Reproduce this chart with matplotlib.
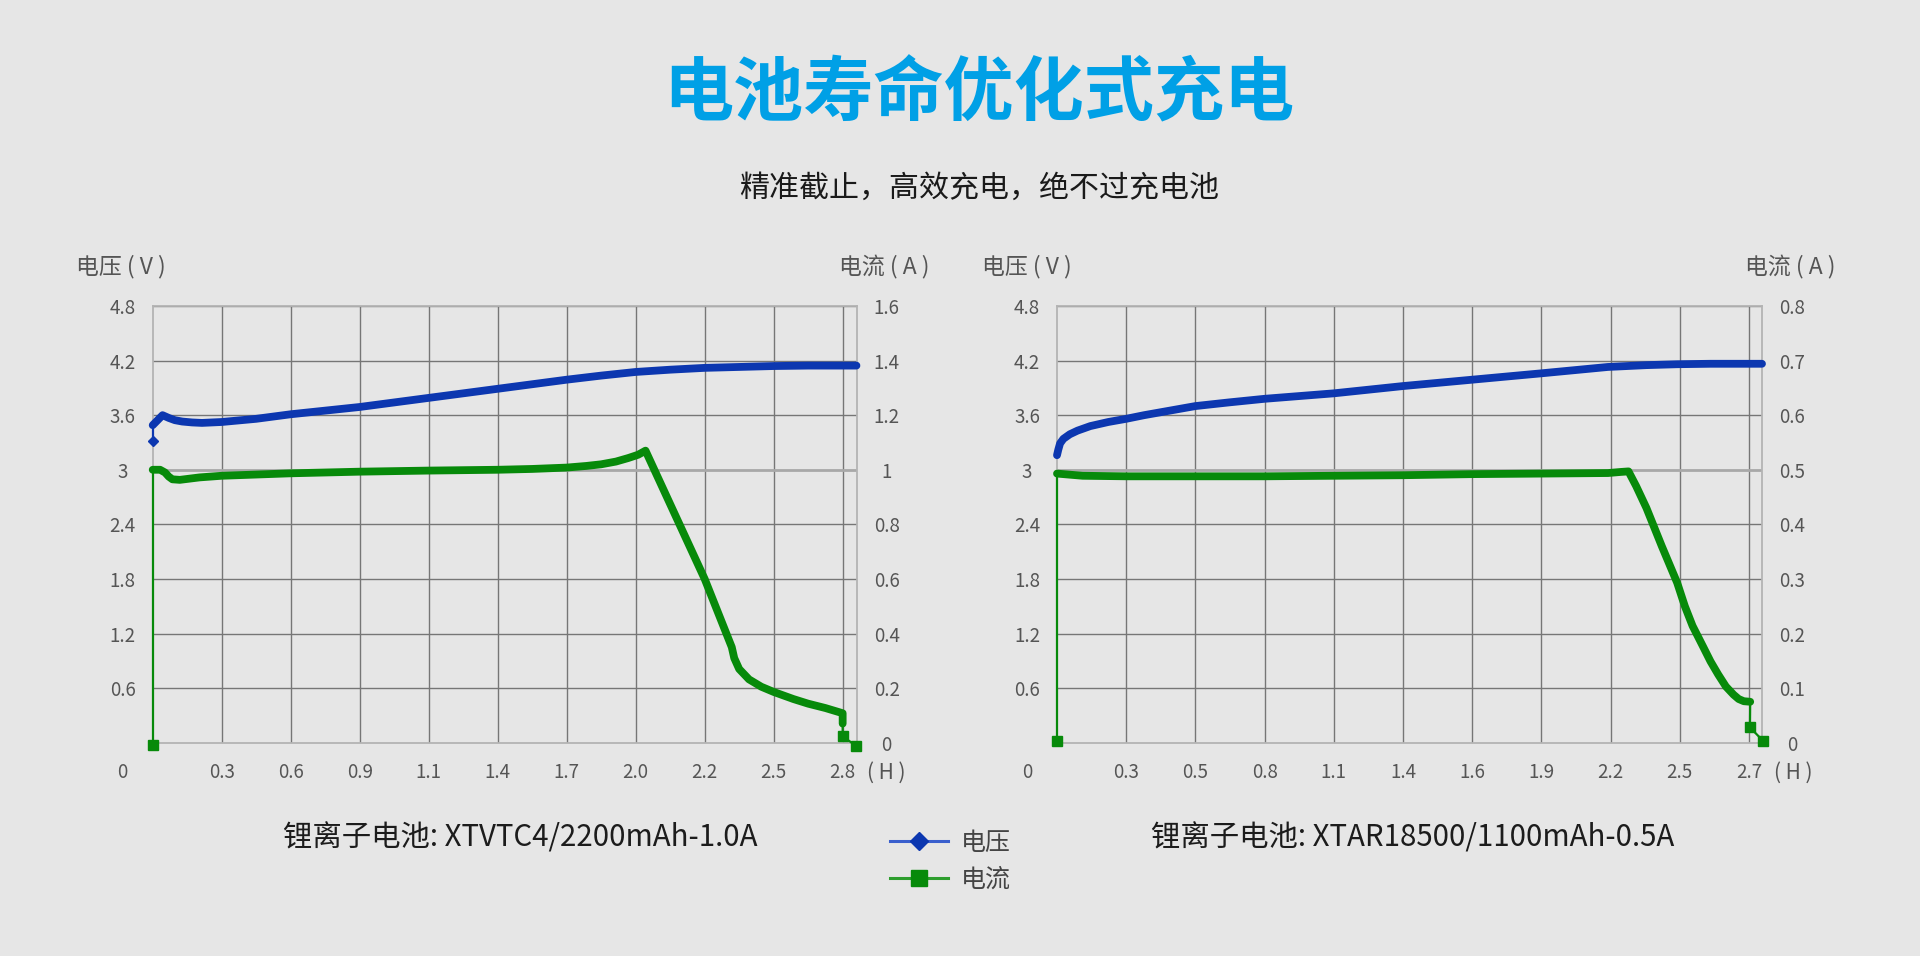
import matplotlib
matplotlib.use('Agg')
import matplotlib.pyplot as plt
from matplotlib.lines import Line2D

plt.rcParams['font.family'] = ['Noto Sans CJK SC', 'DejaVu Sans']

# ---------------- data ----------------
TITLE = '电池寿命优化式充电'
SUBTITLE = '精准截止，高效充电，绝不过充电池'
V_LABEL = '电压 ( V )'
A_LABEL = '电流 ( A )'
H_LABEL = '( H )'
LEGEND_LABELS = ['电压', '电流']

V_TICKS = [0.6, 1.2, 1.8, 2.4, 3.0, 3.6, 4.2, 4.8]
V_TICKLABELS = ['0.6', '1.2', '1.8', '2.4', '3', '3.6', '4.2', '4.8']

# left chart: XTVTC4
L_CAPTION = '锂离子电池: XTVTC4/2200mAh-1.0A'
L_XTICKLABELS = ['0.3', '0.6', '0.9', '1.1', '1.4', '1.7', '2.0', '2.2', '2.5', '2.8']
L_A_TICKS = [0, 0.2, 0.4, 0.6, 0.8, 1.0, 1.2, 1.4, 1.6]
L_A_TICKLABELS = ['0', '0.2', '0.4', '0.6', '0.8', '1', '1.2', '1.4', '1.6']
L_V_t = [0, 0.04, 0.065, 0.09, 0.12, 0.16, 0.20, 0.28, 0.42, 0.56, 0.70, 0.84, 0.98, 1.12,
         1.26, 1.40, 1.54, 1.68, 1.82, 1.96, 2.10, 2.24, 2.38, 2.52, 2.66, 2.80, 2.856]
L_V = [3.49, 3.60, 3.57, 3.545, 3.53, 3.52, 3.515, 3.525, 3.56, 3.61, 3.65, 3.69, 3.74, 3.79,
       3.84, 3.89, 3.94, 3.99, 4.035, 4.075, 4.10, 4.12, 4.13, 4.14, 4.145, 4.145, 4.145]
L_V_start_t = [0, 0]
L_V_start = [3.32, 3.49]
L_I_t = [0, 0.03, 0.05, 0.065, 0.08, 0.11, 0.19, 0.28, 0.56, 0.84, 1.12, 1.40, 1.54, 1.68,
         1.76, 1.82, 1.88, 1.93, 1.97, 2.00, 2.24, 2.35, 2.36, 2.38, 2.42, 2.47, 2.52, 2.60,
         2.66, 2.73, 2.80, 2.80]
L_I = [1.00, 1.00, 0.99, 0.975, 0.965, 0.963, 0.972, 0.978, 0.987, 0.993, 0.997, 1.00, 1.003,
       1.008, 1.014, 1.02, 1.03, 1.043, 1.055, 1.07, 0.60, 0.35, 0.31, 0.27, 0.232, 0.205,
       0.186, 0.16, 0.143, 0.127, 0.108, 0.07]
L_I_start_t = [0, 0]
L_I_start = [-0.01, 1.00]
L_I_end_t = [2.80, 2.80, 2.856]
L_I_end = [0.07, 0.023, -0.012]

# right chart: XTAR18500
R_CAPTION = '锂离子电池: XTAR18500/1100mAh-0.5A'
R_XTICKLABELS = ['0.3', '0.5', '0.8', '1.1', '1.4', '1.6', '1.9', '2.2', '2.5', '2.7']
R_A_TICKS = [0, 0.1, 0.2, 0.3, 0.4, 0.5, 0.6, 0.7, 0.8]
R_A_TICKLABELS = ['0', '0.1', '0.2', '0.3', '0.4', '0.5', '0.6', '0.7', '0.8']
R_V_t = [0, 0.005, 0.012, 0.025, 0.05, 0.08, 0.13, 0.20, 0.27, 0.34, 0.40, 0.47, 0.54, 0.67,
         0.81, 1.08, 1.35, 1.62, 1.89, 2.15, 2.30, 2.42, 2.55, 2.751]
R_V = [3.16, 3.22, 3.29, 3.34, 3.39, 3.43, 3.48, 3.525, 3.56, 3.60, 3.63, 3.665, 3.70, 3.74,
       3.78, 3.84, 3.92, 3.99, 4.06, 4.13, 4.15, 4.16, 4.165, 4.165]
R_I_t = [0, 0.10, 0.27, 0.54, 0.81, 1.08, 1.35, 1.62, 1.89, 2.15, 2.20, 2.23, 2.26, 2.30,
         2.36, 2.42, 2.45, 2.48, 2.52, 2.55, 2.58, 2.61, 2.64, 2.66, 2.68, 2.705]
R_I = [0.493, 0.489, 0.488, 0.488, 0.488, 0.489, 0.490, 0.492, 0.493, 0.494, 0.496, 0.497,
       0.47, 0.43, 0.36, 0.293, 0.25, 0.214, 0.177, 0.149, 0.125, 0.103, 0.088, 0.08,
       0.076, 0.075]
R_I_start_t = [0, 0]
R_I_start = [0.003, 0.493]
R_I_end_t = [2.705, 2.704, 2.756]
R_I_end = [0.075, 0.028, 0.003]

# ---------------- style ----------------
BG = '#e6e6e6'
BLUE = '#0c37b0'
GREEN = '#078a0a'
BLUE_THIN = '#3a5fcd'
GREEN_THIN = '#2e9e2e'
GRID = '#767676'
SPINE = '#b4b4b4'
TICKC = '#555555'
PX = 72 / 100.0  # points per pixel

fig = plt.figure(figsize=(19.2, 9.56), dpi=100, facecolor=BG)


def chart(rect, step, xmax, xticklabels, a_ticks, a_ticklabels,
          v_t, v, i_t, i, i_start_t, i_start, i_end_t, i_end,
          v_start_t=None, v_start=None, caption='', cap_x=0.0,
          vlab_dx=-32, alab_dx=28, h_dx=22):
    ax = fig.add_axes(rect)
    ax.set_xlim(0, xmax)
    ax.set_ylim(0, 4.8)
    xt = [step * (k + 1) for k in range(len(xticklabels))]
    ax.set_xticks(xt)
    ax.set_xticklabels(xticklabels)
    ax.set_yticks(V_TICKS)
    ax.set_yticklabels(V_TICKLABELS)
    ax.grid(True, color=GRID, lw=1.0)
    ax.set_axisbelow(True)
    for val, gl in zip(V_TICKS, ax.yaxis.get_gridlines()):
        if abs(val - 3.0) < 1e-6:
            gl.set_color('#a8a8a8')
            gl.set_linewidth(2.0)
    ax.tick_params(axis='both', length=0, labelsize=13.5, labelcolor=TICKC)
    ax.tick_params(axis='y', pad=30 * PX)
    ax.tick_params(axis='x', pad=30 * PX)
    for t in ax.get_yticklabels():
        t.set_horizontalalignment('center')
    for t in ax.get_xticklabels():
        t.set_verticalalignment('center')
    for s in ax.spines.values():
        s.set_color(SPINE)
        s.set_linewidth(1.3)
        s.set_zorder(1)

    ax2 = ax.twinx()
    ax2.set_ylim(0, a_ticks[-1])
    ax2.set_yticks(a_ticks)
    ax2.set_yticklabels(a_ticklabels)
    ax2.tick_params(axis='y', length=0, labelsize=13.5, labelcolor=TICKC, pad=30 * PX)
    for t in ax2.get_yticklabels():
        t.set_horizontalalignment('center')
    for s in ax2.spines.values():
        s.set_visible(False)
    ax.set_zorder(ax2.get_zorder() + 1)
    ax.patch.set_visible(False)
    ax2.patch.set_visible(True)
    ax2.patch.set_facecolor(BG)

    tr = ax2.transData  # current values use the right-hand scale
    ax.plot(i_start_t, i_start, color=GREEN, lw=1.6, marker='s', ms=6.8,
            markevery=[0], clip_on=False, zorder=3, transform=tr)
    ax.plot(i_end_t, i_end, color=GREEN, lw=1.6, marker='s', ms=6.8,
            markevery=[1, 2], clip_on=False, zorder=3, transform=tr)
    ax.plot(i_t, i, color=GREEN, lw=5.6, solid_capstyle='round',
            solid_joinstyle='round', clip_on=False, zorder=4, transform=tr)
    if v_start_t is not None:
        ax.plot(v_start_t, v_start, color=BLUE, lw=1.6, marker='D', ms=5.5,
                markevery=[0], clip_on=False, zorder=3)
    ax.plot(v_t, v, color=BLUE, lw=5.6, solid_capstyle='round',
            solid_joinstyle='round', clip_on=False, zorder=5)

    ax.annotate(V_LABEL, xy=(0, 1), xycoords='axes fraction',
                xytext=(vlab_dx * PX, 39 * PX), textcoords='offset points',
                ha='center', va='center', fontsize=16.5, color=TICKC)
    ax.annotate(A_LABEL, xy=(1, 1), xycoords='axes fraction',
                xytext=(alab_dx * PX, 39 * PX), textcoords='offset points',
                ha='center', va='center', fontsize=16.5, color=TICKC)
    ax.annotate('0', xy=(0, 0), xycoords='axes fraction',
                xytext=(-30 * PX, -30 * PX), textcoords='offset points',
                ha='center', va='center', fontsize=13.5, color=TICKC)
    ax.annotate(H_LABEL, xy=(1, 0), xycoords='axes fraction',
                xytext=(h_dx * PX, -30 * PX), textcoords='offset points',
                ha='center', va='center', fontsize=15, color=TICKC)
    fig.text(cap_x, 1 - 838 / 956, caption, ha='center', va='center',
             fontsize=21.2, color='#1c1c1c')
    return ax


chart([152.7 / 1920, 1 - 742.7 / 956, 704 / 1920, 436.7 / 956], 0.28, 2.857,
      L_XTICKLABELS, L_A_TICKS, L_A_TICKLABELS,
      L_V_t, L_V, L_I_t, L_I, L_I_start_t, L_I_start, L_I_end_t, L_I_end,
      L_V_start_t, L_V_start, L_CAPTION, 520 / 1920,
      vlab_dx=-32, alab_dx=28, h_dx=30)

chart([1057 / 1920, 1 - 742.7 / 956, 705 / 1920, 436.7 / 956], 0.27, 2.751,
      R_XTICKLABELS, R_A_TICKS, R_A_TICKLABELS,
      R_V_t, R_V, R_I_t, R_I, R_I_start_t, R_I_start, R_I_end_t, R_I_end,
      None, None, R_CAPTION, 1413 / 1920,
      vlab_dx=-30, alab_dx=28, h_dx=31)

fig.text(979 / 1920, 1 - 95.5 / 956, TITLE, ha='center', va='center',
         fontsize=50.5, fontweight='bold', color='#00a0e6')
fig.text(979 / 1920, 1 - 188.6 / 956, SUBTITLE, ha='center', va='center',
         fontsize=21.6, color='#1a1a1a')

handles = [Line2D([], [], color=BLUE_THIN, lw=2.2, marker='D', ms=9.5,
                  markerfacecolor=BLUE, markeredgecolor=BLUE),
           Line2D([], [], color=GREEN_THIN, lw=2.2, marker='s', ms=12,
                  markerfacecolor=GREEN, markeredgecolor=GREEN)]
fig.legend(handles, LEGEND_LABELS, loc='center left',
           bbox_to_anchor=(890 / 1920, 1 - 861 / 956), frameon=False,
           fontsize=18, labelcolor='#444444', handlelength=2.3,
           handletextpad=0.55, labelspacing=0.42, borderpad=0, borderaxespad=0)

fig.savefig('out.png', dpi=100, facecolor=BG)
